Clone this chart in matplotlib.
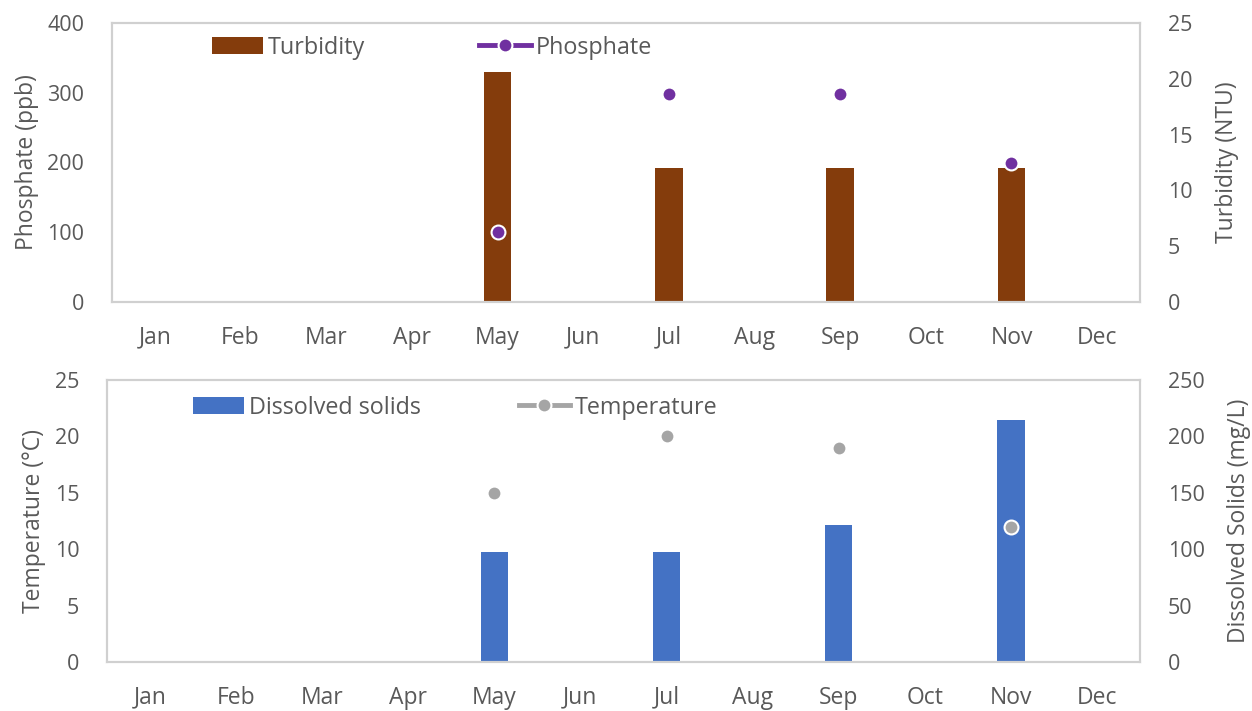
import numpy as np
import matplotlib.pyplot as plt

plt.rcParams['font.family'] = ['Open Sans', 'DejaVu Sans']

months = ["Jan", "Feb", "Mar", "Apr", "May", "Jun", "Jul", "Aug", "Sep", "Oct", "Nov", "Dec"]
nan = np.nan
turbidity = [nan, nan, nan, nan, 20.6, nan, 12, nan, 12, nan, 12, nan]
phosphate = [nan, nan, nan, nan, 100, nan, 298, nan, 298, nan, 199, nan]
dissolved = [nan, nan, nan, nan, 97.5, nan, 97.5, nan, 121.5, nan, 214.5, nan]
temperature = [nan, nan, nan, nan, 15, nan, 20, nan, 19, nan, 12, nan]

grey_txt = "#595959"
frame = "#d0d0d0"
fs_tick = 15.5
fs_lab = 16.5
fs_leg = 16.8

fig = plt.figure(figsize=(12.52, 7.11), dpi=100)
ax1 = fig.add_axes([0.0895, 0.5752, 0.821, 0.3925])
ax2 = fig.add_axes([0.0855, 0.0689, 0.825, 0.3966])
x = np.arange(len(months))


def panel(ax, bar_vals, pt_vals, bar_col, pt_col, bar_lab, pt_lab, ylab_l, ylab_r,
          ylim_l, yt_l, ylim_r, yt_r, leg_x, leg_y, colsp):
    tw = ax.twinx()
    bars = tw.bar(x, bar_vals, width=0.32, color=bar_col, label=bar_lab)
    line, = ax.plot(x, pt_vals, color=pt_col, lw=3.5, marker='o', ms=10,
                    mec='white', mew=1.5, label=pt_lab)
    # markers in front of the bars
    ax.set_zorder(tw.get_zorder() + 1)
    ax.patch.set_visible(False)
    ax.set_xlim(-0.5, 11.5)
    ax.set_ylim(*ylim_l)
    ax.set_yticks(yt_l)
    tw.set_ylim(*ylim_r)
    tw.set_yticks(yt_r)
    ax.set_xticks(x)
    ax.set_xticklabels(months)
    for a in (ax, tw):
        a.tick_params(length=0, labelsize=fs_tick, colors=grey_txt)
        for s in a.spines.values():
            s.set_color(frame)
            s.set_linewidth(1.5)
    ax.tick_params(axis='x', pad=17, labelsize=fs_lab)
    ax.tick_params(axis='y', pad=20)
    tw.tick_params(axis='y', pad=20)
    ax.set_ylabel(ylab_l, fontsize=fs_lab, color=grey_txt, labelpad=6)
    tw.set_ylabel(ylab_r, fontsize=fs_lab, color=grey_txt, labelpad=16)
    ax.legend([bars, line], [bar_lab, pt_lab], loc='center left',
              bbox_to_anchor=(leg_x, leg_y), ncol=2, frameon=False,
              fontsize=fs_leg, labelcolor=grey_txt, borderpad=0, borderaxespad=0,
              handlelength=2.2, handletextpad=0.2, columnspacing=colsp)


panel(ax1, turbidity, phosphate, "#843C0C", "#7030A0", "Turbidity", "Phosphate",
      "Phosphate (ppb)", "Turbidity (NTU)", (0, 400), [0, 100, 200, 300, 400],
      (0, 25), [0, 5, 10, 15, 20, 25], 0.097, 0.912, 4.9)
panel(ax2, dissolved, temperature, "#4472C4", "#A5A5A5", "Dissolved solids", "Temperature",
      "Temperature (°C)", "Dissolved Solids (mg/L)", (0, 25), [0, 5, 10, 15, 20, 25],
      (0, 250), [0, 50, 100, 150, 200, 250], 0.083, 0.902, 4.2)

fig.savefig("out.png", dpi=100)
